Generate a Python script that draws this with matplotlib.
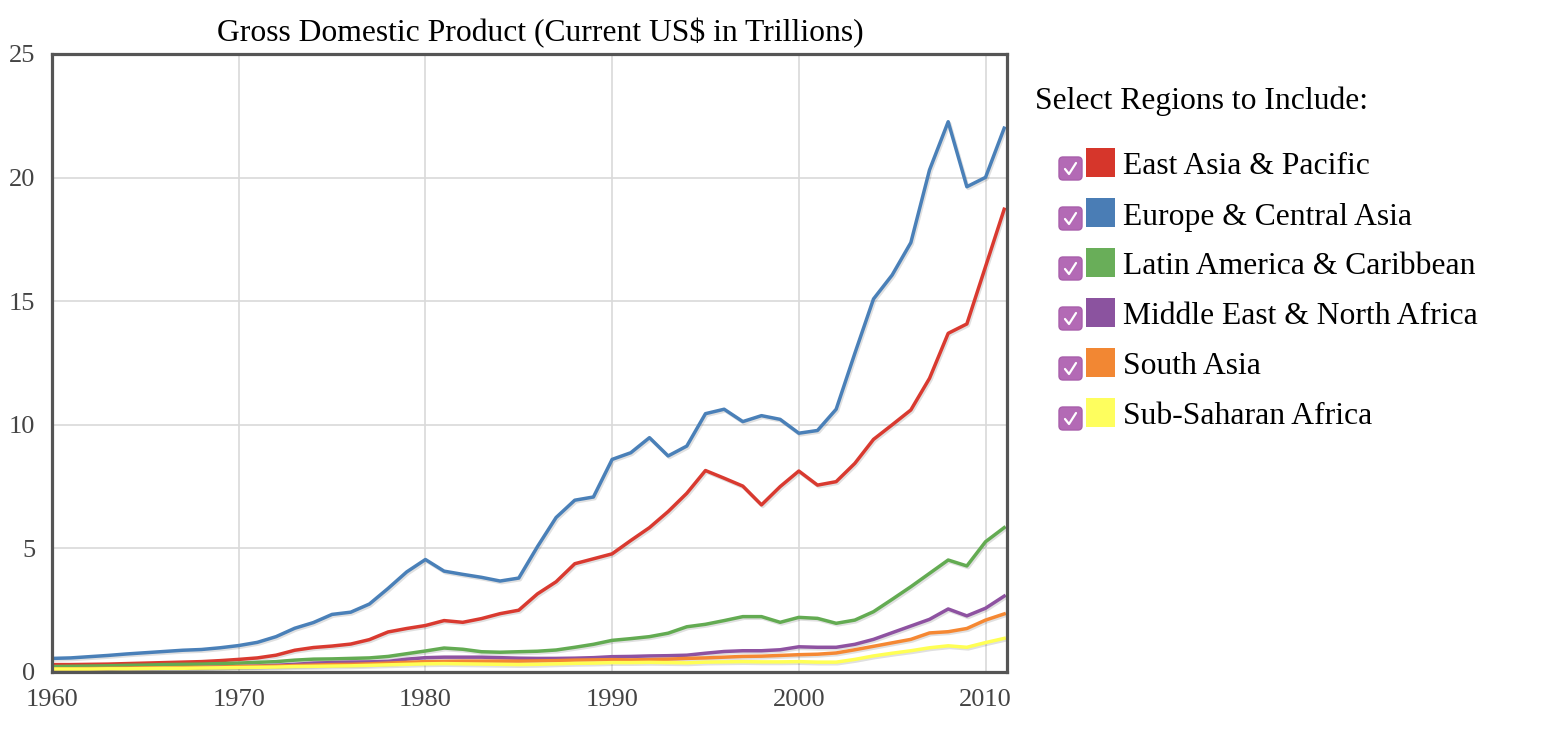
import matplotlib
matplotlib.use("Agg")
import matplotlib.pyplot as plt
import matplotlib.patheffects as pe
from matplotlib.patches import FancyBboxPatch, Rectangle
from matplotlib.lines import Line2D

plt.rcParams['font.family'] = ['Liberation Serif', 'DejaVu Serif']

years = list(range(1960, 2012))

east_asia = [0.30, 0.30, 0.31, 0.32, 0.34, 0.36, 0.38, 0.40, 0.42, 0.46,
             0.51, 0.57, 0.68, 0.88, 0.99, 1.05, 1.13, 1.31, 1.62, 1.76,
             1.88, 2.08, 2.01, 2.16, 2.36, 2.50, 3.16, 3.65, 4.38, 4.58,
             4.78, 5.32, 5.84, 6.49, 7.23, 8.15, 7.84, 7.52, 6.76, 7.50,
             8.13, 7.56, 7.70, 8.44, 9.41, 10.00, 10.60, 11.88, 13.70, 14.08,
             16.40, 18.72]
europe = [0.55, 0.57, 0.62, 0.67, 0.73, 0.78, 0.83, 0.88, 0.91, 0.98,
          1.07, 1.20, 1.43, 1.77, 2.00, 2.33, 2.42, 2.75, 3.38, 4.05,
          4.55, 4.08, 3.95, 3.83, 3.68, 3.80, 5.07, 6.25, 6.95, 7.08,
          8.60, 8.87, 9.48, 8.74, 9.14, 10.45, 10.63, 10.13, 10.37, 10.22,
          9.66, 9.77, 10.63, 12.89, 15.09, 16.06, 17.37, 20.31, 22.26, 19.63,
          20.01, 22.00]
latin = [0.22, 0.23, 0.24, 0.25, 0.27, 0.28, 0.30, 0.31, 0.32, 0.34,
         0.36, 0.39, 0.42, 0.48, 0.52, 0.53, 0.55, 0.57, 0.63, 0.74,
         0.85, 0.97, 0.92, 0.82, 0.80, 0.82, 0.84, 0.89, 1.00, 1.12,
         1.28, 1.35, 1.43, 1.57, 1.83, 1.93, 2.08, 2.24, 2.24, 2.01,
         2.21, 2.17, 1.97, 2.10, 2.44, 2.94, 3.45, 3.99, 4.53, 4.29,
         5.27, 5.84]
mena = [0.10, 0.10, 0.11, 0.12, 0.13, 0.14, 0.15, 0.16, 0.18, 0.20,
        0.22, 0.24, 0.27, 0.31, 0.36, 0.38, 0.40, 0.41, 0.43, 0.52,
        0.58, 0.60, 0.60, 0.60, 0.58, 0.56, 0.55, 0.55, 0.56, 0.58,
        0.62, 0.63, 0.65, 0.66, 0.68, 0.76, 0.83, 0.86, 0.86, 0.90,
        1.02, 1.00, 1.00, 1.12, 1.32, 1.59, 1.86, 2.13, 2.55, 2.27,
        2.58, 3.07]
south_asia = [0.13, 0.13, 0.14, 0.15, 0.16, 0.17, 0.17, 0.18, 0.19, 0.20,
              0.22, 0.23, 0.24, 0.26, 0.28, 0.30, 0.31, 0.33, 0.36, 0.39,
              0.42, 0.43, 0.44, 0.44, 0.44, 0.44, 0.45, 0.46, 0.48, 0.49,
              0.50, 0.49, 0.50, 0.52, 0.55, 0.57, 0.60, 0.63, 0.64, 0.67,
              0.70, 0.72, 0.77, 0.90, 1.04, 1.18, 1.32, 1.58, 1.63, 1.76,
              2.10, 2.35]
ssa = [0.12, 0.12, 0.12, 0.13, 0.13, 0.14, 0.15, 0.15, 0.16, 0.17,
       0.18, 0.19, 0.20, 0.22, 0.23, 0.24, 0.25, 0.27, 0.29, 0.31,
       0.33, 0.34, 0.33, 0.32, 0.31, 0.30, 0.31, 0.33, 0.35, 0.36,
       0.38, 0.38, 0.39, 0.38, 0.37, 0.40, 0.41, 0.42, 0.41, 0.41,
       0.42, 0.40, 0.40, 0.51, 0.65, 0.76, 0.86, 0.98, 1.06, 1.00,
       1.19, 1.36]

regions = ["East Asia & Pacific", "Europe & Central Asia", "Latin America & Caribbean",
           "Middle East & North Africa", "South Asia", "Sub-Saharan Africa"]
series = [east_asia, europe, latin, mena, south_asia, ssa]
line_colors = ['#d93a30', '#4a80b8', '#63ab52', '#8e52a1', '#f58833', '#ffff55']
swatch_colors = ['#d6362b', '#4a7db5', '#69ae59', '#8b539f', '#f28733', '#fefe5e']

x_ticks = [1960, 1970, 1980, 1990, 2000, 2010]
y_ticks = [0, 5, 10, 15, 20, 25]

fig = plt.figure(figsize=(15.56, 7.5), dpi=100)
W, H = 1556, 750
ax = fig.add_axes([52 / W, 1 - 672 / H, (1007 - 52) / W, (672 - 54) / H])

for vals, col in zip(series, line_colors):
    ax.plot(years, vals, color=col, lw=2.5, solid_joinstyle='round', zorder=3,
            path_effects=[pe.SimpleLineShadow(offset=(1.0, -1.2), shadow_color='#000000', alpha=0.12, rho=1),
                          pe.Normal()])

ax.set_xlim(1960, 2011.15)
ax.set_ylim(0, 25)
ax.set_xticks(x_ticks)
ax.set_yticks(y_ticks)
ax.grid(True, color='#d9d9d9', lw=1.2, zorder=0)
ax.tick_params(length=0, labelsize=19, colors='#444444')
ax.tick_params(axis='x', pad=12)
ax.tick_params(axis='y', pad=12)
for s in ax.spines.values():
    s.set_color('#555555')
    s.set_linewidth(2.3)
    s.set_zorder(5)

fig.text(540 / W, 1 - 33 / H, "Gross Domestic Product (Current US$ in Trillions)",
         ha='center', va='center', fontsize=22.8, color='#000000')

# legend panel drawn in pixel coordinates
ov = fig.add_axes([0, 0, 1, 1], facecolor='none')
ov.set_xlim(0, W)
ov.set_ylim(H, 0)
ov.axis('off')
ov.text(1035, 101, "Select Regions to Include:", ha='left', va='center', fontsize=22.8, color='#000000')
for i, (name, col) in enumerate(zip(regions, swatch_colors)):
    top = 148 + 50 * i
    # checkbox
    ov.add_patch(FancyBboxPatch((1059, top + 9), 23, 23, boxstyle="round,pad=0,rounding_size=4",
                                facecolor='#b36ab5', edgecolor='#a85fab', lw=1))
    ov.add_line(Line2D([1065, 1069, 1076], [top + 21, top + 26, top + 15],
                       color='white', lw=1.6, solid_capstyle='round', solid_joinstyle='round'))
    # color swatch
    ov.add_patch(Rectangle((1086, top), 29, 29, facecolor=col, edgecolor='none'))
    ov.text(1123, top + 19, name, ha='left', va='center', fontsize=22.8, color='#000000')

fig.savefig("out.png", dpi=100, facecolor='white')
